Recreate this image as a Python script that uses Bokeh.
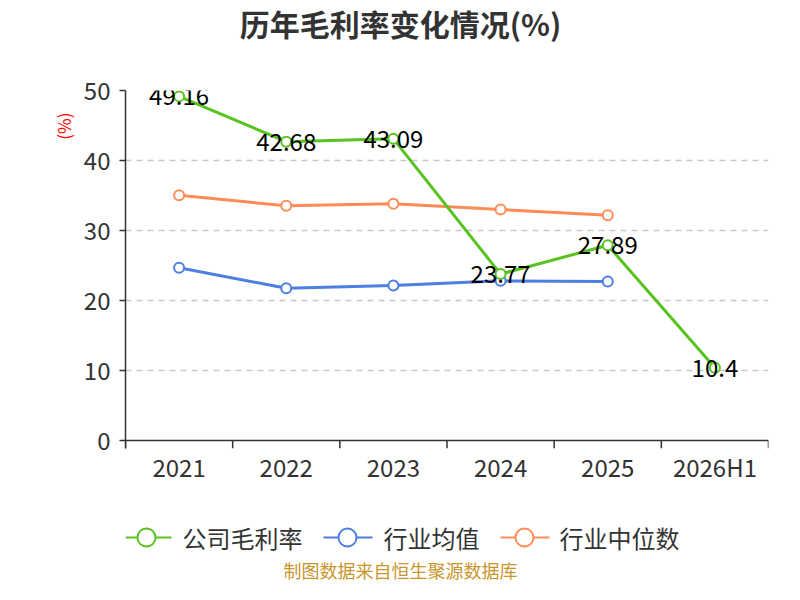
from bokeh.plotting import figure
from bokeh.models import (ColumnDataSource, Range1d, FactorRange, CategoricalAxis,
                          FixedTicker, Span, Title)
from bokeh.layouts import column
from bokeh.embed import file_html
from bokeh.resources import INLINE
from bokeh.core.properties import value

# ---------------- data ----------------
categories = ["2021", "2022", "2023", "2024", "2025", "2026H1"]
company_gm = [49.16, 42.68, 43.09, 23.77, 27.89, 10.4]
industry_avg = [24.67, 21.76, 22.14, 22.81, 22.71]
industry_median = [35.05, 33.52, 33.81, 33.0, 32.19]
series_names = ["公司毛利率", "行业均值", "行业中位数"]
y_ticks = [0, 10, 20, 30, 40, 50]
title_text = "历年毛利率变化情况(%)"
unit_text = "(%)"
footer_text = "制图数据来自恒生聚源数据库"

GREEN = "#58c21f"
BLUE = "#4d7fe2"
ORANGE = "#ff8b55"
AXIS = "#333333"
FONT = "Noto Sans CJK SC"

W = 784
LEFT, RIGHT = 125, 768          # frame edges (page pixels)
TITLE_H = 50
MAIN_H = 440
LEG_H = 94
Y_MAX = 50
PX_PER_UNIT = 350 / Y_MAX
Y_MIN = -8 / PX_PER_UNIT        # room for the category tick marks below zero


def blank_fig(h):
    f = figure(width=W, height=h, x_range=Range1d(LEFT, RIGHT), y_range=Range1d(0, h),
               output_backend="svg", toolbar_location=None, x_axis_location=None,
               y_axis_location=None, min_border_left=LEFT, min_border_right=W - RIGHT,
               min_border_top=0, min_border_bottom=0)
    f.outline_line_color = None
    f.xgrid.visible = False
    f.ygrid.visible = False
    return f


# ---------------- title ----------------
tf = blank_fig(TITLE_H)
tf.text(x=[400], y=[TITLE_H - 22], text=[title_text], text_align="center", text_baseline="middle",
        text_font=value(FONT), text_font_size="30px", text_font_style="bold", text_color=AXIS)

# ---------------- main chart ----------------
p = figure(width=W, height=MAIN_H, x_range=FactorRange(*categories), y_range=Range1d(Y_MIN, Y_MAX),
           output_backend="svg", toolbar_location=None, x_axis_location=None,
           min_border_left=LEFT, min_border_right=W - RIGHT, min_border_top=40,
           min_border_bottom=42)
p.outline_line_color = None
p.background_fill_color = "white"
p.border_fill_color = "white"

ya = p.yaxis[0]
ya.ticker = FixedTicker(ticks=y_ticks)
ya.axis_line_color = AXIS
ya.axis_line_width = 1.5
ya.major_tick_line_color = AXIS
ya.major_tick_line_width = 1.5
ya.major_tick_out = 6
ya.major_tick_in = 0
ya.minor_tick_line_color = None
ya.major_label_text_font = FONT
ya.major_label_text_font_size = "24px"
ya.major_label_text_color = AXIS
ya.major_label_standoff = 9

p.add_layout(Title(text=unit_text, align="right", offset=22, text_color="red",
                   text_font=FONT, text_font_size="17px", text_font_style="normal"), "left")

p.xgrid.visible = False
p.ygrid.ticker = FixedTicker(ticks=y_ticks[1:])
p.ygrid.grid_line_color = "#c8c8c8"
p.ygrid.grid_line_dash = "6 5"
p.ygrid.grid_line_width = 1.3

cat_axis = CategoricalAxis()
cat_axis.axis_line_color = None
cat_axis.major_tick_line_color = None
cat_axis.minor_tick_line_color = None
cat_axis.major_label_text_font = FONT
cat_axis.major_label_text_font_size = "24px"
cat_axis.major_label_text_color = AXIS
cat_axis.major_label_standoff = -6
p.add_layout(cat_axis, "below")

# x axis line at zero and tick marks at category boundaries
p.add_layout(Span(location=0, dimension="width", line_color=AXIS, line_width=1.5))
n = len(categories)
bounds = list(range(n + 1))
p.segment(x0=bounds, y0=[0] * (n + 1), x1=bounds, y1=[Y_MIN] * (n + 1),
          line_color=AXIS, line_width=1.5)

src_c = ColumnDataSource(dict(x=categories, y=company_gm, t=[str(v) for v in company_gm]))
src_a = ColumnDataSource(dict(x=categories[:len(industry_avg)], y=industry_avg))
src_m = ColumnDataSource(dict(x=categories[:len(industry_median)], y=industry_median))

for src, col in [(src_m, ORANGE), (src_a, BLUE), (src_c, GREEN)]:
    p.line("x", "y", source=src, line_color=col, line_width=3)
    p.scatter("x", "y", source=src, marker="circle", size=10, fill_color="white",
              line_color=col, line_width=2)

p.text("x", "y", text="t", source=src_c, text_align="center", text_baseline="middle",
       text_font=value(FONT), text_font_size="24px", text_color="black")

# ---------------- legend & footer ----------------
leg = blank_fig(LEG_H)
leg_line_x0 = [125, 323, 500]
leg_line_x1 = [171, 372, 549]
leg_text_x = [182, 383, 559]
leg_cols = [GREEN, BLUE, ORANGE]
ly = 47
leg.segment(x0=leg_line_x0, y0=[ly] * 3, x1=leg_line_x1, y1=[ly] * 3,
            line_color=leg_cols, line_width=2)
leg.scatter(x=[146, 347, 524], y=[ly] * 3, marker="circle", size=18,
            fill_color="white", line_color=leg_cols, line_width=2)
leg.text(x=leg_text_x, y=[ly] * 3, text=series_names, text_align="left", text_baseline="middle",
         text_font=value(FONT), text_font_size="24px", text_color=AXIS)
leg.text(x=[400], y=[15], text=[footer_text], text_align="center", text_baseline="middle",
         text_font=value(FONT), text_font_size="18px", text_color="#c9962b")

layout = column(tf, p, leg, spacing=0)
open("out.html", "w").write(file_html(layout, INLINE))
